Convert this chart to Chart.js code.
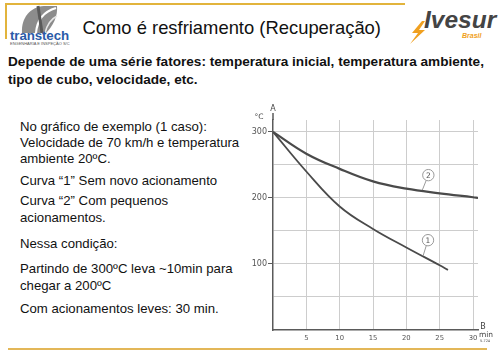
<!DOCTYPE html>
<html>
<head>
<meta charset="utf-8">
<script src="https://cdn.jsdelivr.net/npm/chart.js@4.4.0/dist/chart.umd.min.js"></script>
<style>
  html, body { margin: 0; padding: 0; background: #fff; }
  body { width: 500px; height: 354px; position: relative; overflow: hidden;
         font-family: "Liberation Sans", Arial, sans-serif; color: #111; }
  .t { position: absolute; white-space: nowrap; line-height: 1; }
  .side { font-size: 13.2px; left: 20px; }
  .sub { font-size: 13.6px; font-weight: bold; left: 8px; }
  #chartBox { position: absolute; left: 240px; top: 100px; width: 260px; height: 250px; }
</style>
</head>
<body>

<!-- header lines -->
<div style="position:absolute;left:5px;top:3px;width:400px;height:1.5px;background:#e2b43c"></div>
<div style="position:absolute;left:5px;top:3px;width:1.5px;height:36px;background:#e2b43c"></div>
<div style="position:absolute;left:8px;top:348px;width:479px;height:2px;background:#e3b758"></div>

<!-- transtech logo -->
<svg style="position:absolute;left:20px;top:4px" width="40" height="30" viewBox="0 0 40 30">
  <path d="M2,29 C1,14 10,3 24,2 L37,2 C38,12 33,22 26,29 Z" fill="#8c8c8c"/>
  <path d="M16,29 C17,17 22,8 36,4" stroke="#fff" stroke-width="2.2" fill="none"/>
  <path d="M25,29 C27,21 31,15 37,12" stroke="#e6e6e6" stroke-width="1.5" fill="none"/>
  <path d="M18,2 L22,29" stroke="#5a5a5a" stroke-width="3" fill="none"/>
</svg>
<div class="t" style="left:10px;top:29px;font-size:13.3px;font-weight:bold;color:#2a5ba8;letter-spacing:-0.1px">transtech</div>
<div class="t" style="left:10px;top:42px;font-size:4px;color:#555">ENGENHARIA E INSPEÇÃO S/C</div>

<!-- ivesur logo -->
<svg style="position:absolute;left:408px;top:20px" width="20" height="25" viewBox="0 0 20 25">
  <path d="M14,1 L4,13 L10,13 L2,24 L17,10 L11,10 L17,1 Z" fill="#f0a020"/>
</svg>
<div class="t" style="left:424px;top:8px;font-size:24.5px;font-weight:bold;font-style:italic;color:#444">Ivesur</div>
<div class="t" style="left:462px;top:31.5px;font-size:7px;font-weight:bold;font-style:italic;color:#f0a020">Brasil</div>

<!-- title and subtitle -->
<div class="t" style="left:82.5px;top:19.4px;font-size:18.4px">Como é resfriamento (Recuperação)</div>
<div class="t sub" style="top:55px">Depende de uma série fatores: temperatura inicial, temperatura ambiente,</div>
<div class="t sub" style="top:72.5px">tipo de cubo, velocidade, etc.</div>

<!-- left text -->
<div class="t side" style="top:120.3px">No gráfico de exemplo (1 caso):</div>
<div class="t side" style="top:136.3px">Velocidade de 70 km/h e temperatura</div>
<div class="t side" style="top:152.3px">ambiente 20ºC.</div>
<div class="t side" style="top:174.3px">Curva “1” Sem novo acionamento</div>
<div class="t side" style="top:194.3px">Curva “2” Com pequenos</div>
<div class="t side" style="top:210.8px">acionamentos.</div>
<div class="t side" style="top:237.3px">Nessa condição:</div>
<div class="t side" style="top:262.3px">Partindo de 300ºC leva ~10min para</div>
<div class="t side" style="top:278.8px">chegar a 200ºC</div>
<div class="t side" style="top:302.3px">Com acionamentos leves: 30 min.</div>

<div id="chartBox"><canvas id="cooling" width="260" height="250"></canvas></div>

<script>
// curve 1: no new braking
const curve1Min  = [0, 5, 10, 15, 20, 25, 26.25];
const curve1Temp = [300, 240, 187, 153, 125, 98, 91];
// curve 2: with small brakings
const curve2Min  = [0, 5, 10, 15, 20, 25, 30, 30.75];
const curve2Temp = [300, 267, 244, 225, 214, 207, 201, 200];

const xTicks = [5, 10, 15, 20, 25, 30];
const yTicks = [50, 100, 150, 200, 250, 300];
const yLabels = [100, 200, 300];

// numbered callouts: circle position and the point on the curve it points at
const calloutText = ['1', '2'];
const calloutX = [23.25, 23.3];
const calloutY = [136, 234.5];
const calloutToX = [22.5, 22.4];
const calloutToY = [112, 212];

function points(xs, ys) {
  return xs.map((v, i) => ({x: v, y: ys[i]}));
}

const lineColor = '#4a4a4a';
const gridColor = '#cdcdcd';
const axisColor = '#5a5a5a';

const decor = {
  id: 'decor',
  afterDraw(chart) {
    const ctx = chart.ctx;
    const a = chart.chartArea;
    const x = chart.scales.x, y = chart.scales.y;
    ctx.save();
    // y axis runs a bit above the plot
    ctx.strokeStyle = axisColor;
    ctx.lineWidth = 1.5;
    ctx.beginPath();
    ctx.moveTo(a.left, a.top);
    ctx.lineTo(a.left, a.top - 7);
    ctx.stroke();

    ctx.fillStyle = '#444';
    ctx.textAlign = 'center';
    ctx.textBaseline = 'middle';
    ctx.font = '8px "DejaVu Sans"';
    ctx.fillText('A', a.left, a.top - 11);
    ctx.font = '7.5px "DejaVu Sans"';
    ctx.fillText('°C', a.left - 14, a.top - 3);
    ctx.font = '8px "DejaVu Sans"';
    ctx.fillText('B', a.right + 5, a.bottom - 3);
    ctx.font = '7.5px "DejaVu Sans"';
    ctx.fillText('min', a.right + 8, a.bottom + 5);
    ctx.font = '3.5px "DejaVu Sans"';
    ctx.fillText('5-724', a.right + 7, a.bottom + 11);

    // callouts
    for (let i = 0; i < calloutText.length; i++) {
      const cx = x.getPixelForValue(calloutX[i]);
      const cy = y.getPixelForValue(calloutY[i]);
      const tx = x.getPixelForValue(calloutToX[i]);
      const ty = y.getPixelForValue(calloutToY[i]);
      const r = 5.7;
      const ang = Math.atan2(ty - cy, tx - cx);
      ctx.strokeStyle = '#9a9a9a';
      ctx.lineWidth = 1;
      ctx.beginPath();
      ctx.moveTo(cx + r * Math.cos(ang), cy + r * Math.sin(ang));
      ctx.lineTo(tx, ty);
      ctx.stroke();
      ctx.beginPath();
      ctx.arc(cx, cy, r, 0, Math.PI * 2);
      ctx.fillStyle = '#fff';
      ctx.fill();
      ctx.stroke();
      ctx.fillStyle = '#555';
      ctx.font = '7.5px "DejaVu Sans"';
      ctx.fillText(calloutText[i], cx, cy + 0.5);
    }
    ctx.restore();
  }
};

new Chart(document.getElementById('cooling'), {
  type: 'line',
  data: {
    datasets: [
      {
        label: '1',
        data: points(curve1Min, curve1Temp),
        borderColor: lineColor,
        borderWidth: 1.8,
        pointRadius: 0,
        fill: false,
        tension: 0.4
      },
      {
        label: '2',
        data: points(curve2Min, curve2Temp),
        borderColor: lineColor,
        borderWidth: 2.2,
        pointRadius: 0,
        fill: false,
        tension: 0.4
      }
    ]
  },
  options: {
    responsive: false,
    animation: false,
    events: [],
    layout: { padding: { top: 20, right: 22, left: 0, bottom: 0 } },
    plugins: { legend: { display: false }, tooltip: { enabled: false } },
    scales: {
      x: {
        type: 'linear',
        min: 0,
        max: 30.75,
        afterBuildTicks: function(scale) {
          scale.ticks = xTicks.map(v => ({value: v}));
        },
        afterFit: function(scale) { scale.height = 20; },
        grid: { color: gridColor, lineWidth: 1, drawTicks: false },
        border: { color: axisColor, width: 1.5 },
        ticks: {
          padding: 4,
          maxRotation: 0,
          color: '#555',
          font: { family: 'DejaVu Sans', size: 6.8 }
        }
      },
      y: {
        min: 0,
        max: 318,
        afterBuildTicks: function(scale) {
          scale.ticks = yTicks.map(v => ({value: v}));
        },
        afterFit: function(scale) { scale.width = 33; },
        grid: {
          color: gridColor,
          lineWidth: 1,
          tickLength: 5,
          tickColor: function(c) {
            return yLabels.includes(c.tick && c.tick.value) ? axisColor : 'rgba(0,0,0,0)';
          }
        },
        border: { color: axisColor, width: 1.5 },
        ticks: {
          padding: 1,
          color: '#555',
          font: { family: 'DejaVu Sans', size: 8 },
          callback: function(v) { return yLabels.includes(v) ? String(v) : ''; }
        }
      }
    }
  },
  plugins: [decor]
});
</script>
</body>
</html>
